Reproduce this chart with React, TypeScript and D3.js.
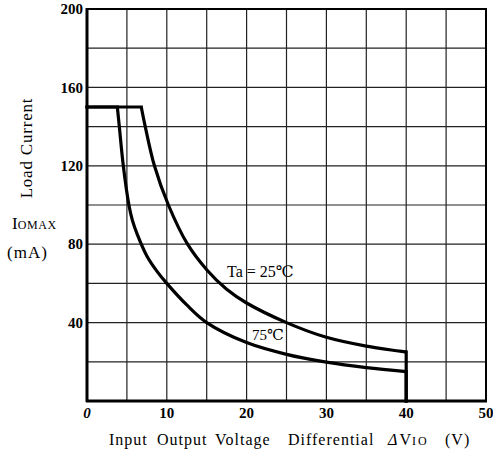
import React from 'react';
import * as d3 from 'd3';

const xTicks = [0, 10, 20, 30, 40, 50];
const yTicks = [40, 80, 120, 160, 200];

// Ta = 25°C: flat limit, dissipation curve, cut-off at 40 V
const flat25: [number, number][] = [[0, 150], [6.8, 150]];
const curve25: [number, number][] = [
    [6.8, 150], [7.3, 140], [8.45, 120], [10.2, 100], [12.6, 80], [15, 67],
    [17.5, 57], [20, 50], [25, 40], [30, 32.5], [35, 28], [40, 25],
];
const drop25: [number, number][] = [[40, 25], [40, 0]];

// 75°C
const flat75: [number, number][] = [[0, 150], [3.8, 150]];
const curve75: [number, number][] = [
    [3.8, 150], [4.05, 140], [4.55, 120], [5.25, 100], [5.7, 92], [6.3, 85], [7.5, 74], [8.8, 66],
    [10, 60], [12.5, 49], [15, 40], [20, 29.8], [25, 23.8], [30, 19.8], [35, 17], [40, 15],
];
const drop75: [number, number][] = [[40, 15], [40, 0]];

const W = 493, H = 454;
const margin = { left: 87, top: 9, right: 7, bottom: 53 };

export default function App() {
    const x = d3.scaleLinear().domain([0, 50]).range([margin.left, W - margin.right]);
    const y = d3.scaleLinear().domain([0, 200]).range([H - margin.bottom, margin.top]);

    const straight = d3.line<[number, number]>().x(d => x(d[0])).y(d => y(d[1]));
    const smooth = d3.line<[number, number]>().x(d => x(d[0])).y(d => y(d[1])).curve(d3.curveCatmullRom.alpha(0.5));

    const vGrid = d3.range(5, 50, 5);
    const hGrid = d3.range(20, 200, 20);
    const font = '"Liberation Serif", "DejaVu Serif", serif';

    return (
        <svg width={W} height={H} style={{ position: 'absolute', left: 0, top: 0, background: '#fff' }}
            fontFamily={font}>
            {vGrid.map(v => (
                <line key={'v' + v} x1={x(v)} x2={x(v)} y1={y(0)} y2={y(200)} stroke="#222" strokeWidth={1.2} />
            ))}
            {hGrid.map(v => (
                <line key={'h' + v} x1={x(0)} x2={x(50)} y1={y(v)} y2={y(v)} stroke="#222" strokeWidth={1.2} />
            ))}
            <rect x={x(0)} y={y(200)} width={x(50) - x(0)} height={y(0) - y(200)} fill="none" stroke="#000" strokeWidth={2} />
            <line x1={x(0)} x2={x(0)} y1={y(0) + 1} y2={y(200) - 1} stroke="#000" strokeWidth={3} />
            <line x1={x(0) - 1} x2={x(50) + 1} y1={y(0)} y2={y(0)} stroke="#000" strokeWidth={3} />

            {[flat25, drop25, flat75, drop75].map((d, i) => (
                <path key={'s' + i} d={straight(d) || ''} fill="none" stroke="#000" strokeWidth={3.2} strokeLinecap="square" />
            ))}
            {[curve25, curve75].map((d, i) => (
                <path key={'c' + i} d={smooth(d) || ''} fill="none" stroke="#000" strokeWidth={3.2} strokeLinejoin="round" />
            ))}

            {yTicks.map(t => (
                <text key={'yt' + t} x={x(0) - 4} y={y(t)} dy="0.35em" textAnchor="end" fontSize={15} fontWeight="bold">{t}</text>
            ))}
            {xTicks.map(t => (
                <text key={'xt' + t} x={x(t)} y={y(0) + 17} textAnchor="middle" fontSize={15} fontWeight="bold"
                    fontStyle={t === 0 ? 'italic' : 'normal'}>{t}</text>
            ))}

            <text transform={`translate(32,148) rotate(-90)`} textAnchor="middle" fontSize={17} letterSpacing={0.8}>Load Current</text>
            <text x={12} y={229} fontSize={17}>I<tspan fontSize={12} letterSpacing={0.6}>OMAX</tspan></text>
            <text x={7} y={258} fontSize={17} letterSpacing={1}>(mA)</text>

            <text y={445} fontSize={16} letterSpacing={1}>
                <tspan x={109}>Input</tspan>
                <tspan x={157}>Output</tspan>
                <tspan x={215}>Voltage</tspan>
                <tspan x={288}>Differential</tspan>
                <tspan x={388} fontStyle="italic" letterSpacing={2}>Δ</tspan>V<tspan fontSize={12} letterSpacing={2}>IO</tspan>
                <tspan x={445}>(V)</tspan>
            </text>

            <text x={227} y={277} fontSize={16}>Ta = 25℃</text>
            <text x={252} y={340} fontSize={15}>75℃</text>
        </svg>
    );
}
